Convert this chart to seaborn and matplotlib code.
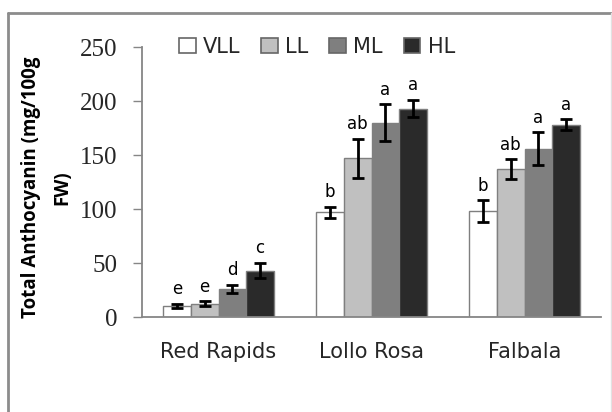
import matplotlib
matplotlib.use("Agg")
import matplotlib.pyplot as plt
from matplotlib.patches import Patch
from matplotlib.lines import Line2D
import seaborn as sns
import pandas as pd

# Data: total anthocyanin per cultivar under four light levels
cultivars = ["Red Rapids", "Lollo Rosa", "Falbala"]
light_levels = ["VLL", "LL", "ML", "HL"]
vll_mean = [10.5, 97, 98]
ll_mean = [12.5, 147, 137]
ml_mean = [26, 180, 156]
hl_mean = [43, 193, 178]
vll_err = [2, 5, 10]
ll_err = [2, 18, 9]
ml_err = [4, 17, 15]
hl_err = [7, 8, 5]
vll_sig = ["e", "b", "b"]
ll_sig = ["e", "ab", "ab"]
ml_sig = ["d", "a", "a"]
hl_sig = ["c", "a", "a"]

means = [vll_mean, ll_mean, ml_mean, hl_mean]
errs = [vll_err, ll_err, ml_err, hl_err]
sigs = [vll_sig, ll_sig, ml_sig, hl_sig]
colors = ["#ffffff", "#c0c0c0", "#7f7f7f", "#2a2a2a"]

rows = []
for lvl, vals in zip(light_levels, means):
    for cv, v in zip(cultivars, vals):
        rows.append({"cultivar": cv, "light": lvl, "value": v})
df = pd.DataFrame(rows)

sns.set_style("white")
plt.rcParams["font.family"] = ["DejaVu Sans"]

W, H = 612, 412
fig = plt.figure(figsize=(W / 100, H / 100), dpi=100)
ax = fig.add_axes([142 / W, 1 - 317 / H, (601 - 142) / W, (317 - 47) / H])

sns.barplot(data=df, x="cultivar", y="value", hue="light",
            order=cultivars, hue_order=light_levels,
            palette=colors, width=0.725, edgecolor="#7f7f7f",
            linewidth=1.0, errorbar=None, legend=False, ax=ax)

# Error bars and significance letters on each bar
for cont, e_list, s_list in zip(ax.containers, errs, sigs):
    for bar, e, s in zip(cont, e_list, s_list):
        xc = bar.get_x() + bar.get_width() / 2
        h = bar.get_height()
        ax.errorbar(xc, h, yerr=e, fmt="none", ecolor="black",
                    elinewidth=2, capsize=4, capthick=2, zorder=5)
        ax.annotate(s, (xc, h + e), xytext=(0, 4), textcoords="offset points",
                    ha="center", va="bottom", fontsize=12, color="black")

ax.set_xlim(-0.5, 2.5)
ax.set_ylim(0, 250)
ax.set_yticks([0, 50, 100, 150, 200, 250])
ax.set_xlabel("")
ax.set_ylabel("Total Anthocyanin (mg/100g\nFW)", family=["Open Sans", "DejaVu Sans"],
              fontweight="bold", fontsize=13.5, linespacing=1.75, color="black")
ax.yaxis.set_label_coords(-0.152, 0.48)

for lab in ax.get_yticklabels():
    lab.set_family("Liberation Serif")
    lab.set_fontsize(18)
for lab in ax.get_xticklabels():
    lab.set_fontsize(15)

ax.tick_params(axis="y", length=6.5, width=1, color="#868686", pad=11, left=True)
ax.tick_params(axis="x", length=0, pad=18)

for side in ["top", "right"]:
    ax.spines[side].set_visible(False)
for side in ["left", "bottom"]:
    ax.spines[side].set_color("#868686")
    ax.spines[side].set_linewidth(1.3)

handles = [Patch(facecolor=c, edgecolor="#666666", linewidth=1.2, label=l)
           for c, l in zip(colors, light_levels)]
ax.legend(handles=handles, ncol=4, frameon=False, loc="center left",
          bbox_to_anchor=(179 / W, 1 - 47 / H), bbox_transform=fig.transFigure,
          handlelength=0.8, handleheight=0.7, handletextpad=0.35,
          columnspacing=1.0, fontsize=15, borderaxespad=0, borderpad=0)

# Outer frame of the figure panel
fig.add_artist(Line2D([8 / W, 8 / W], [0, 1 - 13 / H], transform=fig.transFigure,
                      color="#8c8c8c", linewidth=2))
fig.add_artist(Line2D([8 / W, 611 / W], [1 - 13 / H, 1 - 13 / H], transform=fig.transFigure,
                      color="#8c8c8c", linewidth=2))
fig.add_artist(Line2D([611 / W, 611 / W], [0, 1 - 13 / H], transform=fig.transFigure,
                      color="#e2e2e2", linewidth=1))

fig.savefig("out.png", dpi=100)
